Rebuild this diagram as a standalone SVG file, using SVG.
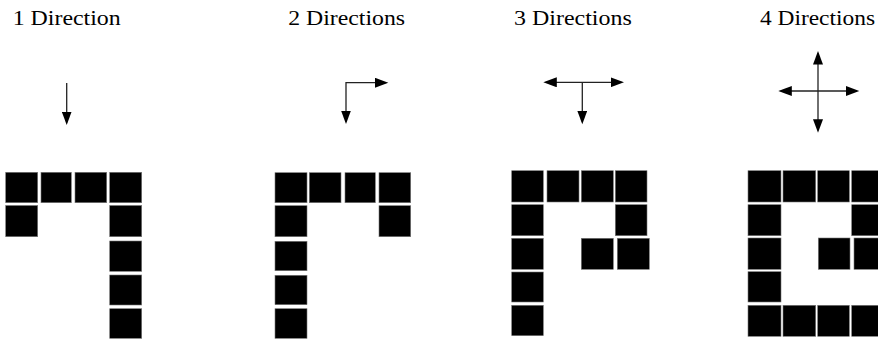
<svg xmlns="http://www.w3.org/2000/svg" width="878" height="339" viewBox="0 0 878 339">
<style>
.title{font-family:"Liberation Serif","Times New Roman",serif;font-size:20px;fill:#000}
.sq{fill:#000;stroke:#777;stroke-width:0.6}
.arr{fill:none;stroke:#222;stroke-width:1.3;marker-end:url(#ah)}
.arr2{fill:none;stroke:#222;stroke-width:1.3;marker-start:url(#ah);marker-end:url(#ah)}
</style>
<defs>
<marker id="ah" markerUnits="userSpaceOnUse" markerWidth="14" markerHeight="10" refX="11" refY="5" orient="auto-start-reverse" viewBox="0 0 14 10">
<path d="M0,0 L13.5,5 L0,10 Z" fill="#000"/>
</marker>
</defs>
<rect width="878" height="339" fill="#fff"/>

<g id="panel1">
<text class="title" x="12.7" y="25" textLength="108" lengthAdjust="spacingAndGlyphs">1 Direction</text>
<g id="grid1">
<rect class="sq" x="5.7" y="172.3" width="32" height="30.4"/>
<rect class="sq" x="41" y="172.3" width="30.3" height="30.4"/>
<rect class="sq" x="75" y="172.3" width="31.7" height="30.4"/>
<rect class="sq" x="109.7" y="172.3" width="32" height="30.4"/>
<rect class="sq" x="5.7" y="205.5" width="32" height="31.2"/>
<rect class="sq" x="109.7" y="205.5" width="32" height="31.2"/>
<rect class="sq" x="109.7" y="241" width="32" height="30.3"/>
<rect class="sq" x="109.7" y="275" width="32" height="30"/>
<rect class="sq" x="109.7" y="308.7" width="32" height="29.6"/>
</g>
</g>

<g id="panel2">
<text class="title" x="288.3" y="25" textLength="116.7" lengthAdjust="spacingAndGlyphs">2 Directions</text>
<g id="grid2">
<rect class="sq" x="275" y="172.7" width="32" height="30"/>
<rect class="sq" x="309.3" y="172.7" width="31.7" height="30"/>
<rect class="sq" x="345" y="172.7" width="30.3" height="30"/>
<rect class="sq" x="379" y="172.7" width="31.7" height="30"/>
<rect class="sq" x="275" y="205.7" width="32" height="31"/>
<rect class="sq" x="379" y="205.7" width="31.7" height="31"/>
<rect class="sq" x="275" y="241.3" width="32" height="29.4"/>
<rect class="sq" x="275" y="275.3" width="32" height="29.4"/>
<rect class="sq" x="275" y="308.7" width="32" height="29.6"/>
</g>
</g>

<g id="panel3">
<text class="title" x="514" y="25" textLength="117.7" lengthAdjust="spacingAndGlyphs">3 Directions</text>
<g id="grid3">
<rect class="sq" x="511.7" y="170.7" width="31.6" height="31.3"/>
<rect class="sq" x="547" y="170.7" width="32" height="31.3"/>
<rect class="sq" x="581.3" y="170.7" width="32" height="31.3"/>
<rect class="sq" x="615.3" y="170.7" width="31.7" height="31.3"/>
<rect class="sq" x="511.7" y="204.7" width="31.6" height="31"/>
<rect class="sq" x="615.3" y="204.7" width="31.7" height="31"/>
<rect class="sq" x="511.7" y="238.3" width="31.6" height="31"/>
<rect class="sq" x="581.3" y="238.3" width="32" height="31"/>
<rect class="sq" x="617.3" y="238.3" width="32" height="31"/>
<rect class="sq" x="511.7" y="272" width="31.6" height="30"/>
<rect class="sq" x="511.7" y="305.3" width="31.6" height="30.4"/>
</g>
</g>

<g id="panel4">
<text class="title" x="760" y="25" textLength="115" lengthAdjust="spacingAndGlyphs">4 Directions</text>
<g id="grid4">
<rect class="sq" x="748" y="170.7" width="33" height="31.3"/>
<rect class="sq" x="783" y="170.7" width="32.7" height="31.3"/>
<rect class="sq" x="817.7" y="170.7" width="31.6" height="31.3"/>
<rect class="sq" x="851.7" y="170.7" width="32" height="31.3"/>
<rect class="sq" x="748" y="204.7" width="33" height="31"/>
<rect class="sq" x="851.7" y="204.7" width="32" height="31"/>
<rect class="sq" x="748" y="238" width="33" height="31.3"/>
<rect class="sq" x="818.3" y="238" width="31.7" height="31.3"/>
<rect class="sq" x="854" y="238" width="32" height="31.3"/>
<rect class="sq" x="748" y="271.7" width="33" height="30.3"/>
<rect class="sq" x="748" y="305.3" width="33" height="31"/>
<rect class="sq" x="783" y="305.3" width="32.7" height="31"/>
<rect class="sq" x="817.7" y="305.3" width="31.6" height="31"/>
<rect class="sq" x="851.7" y="305.3" width="32" height="31"/>
</g>
</g>

<g id="connectors">
<line class="arr" x1="66.7" y1="83" x2="66.7" y2="122.5"/>
<path class="arr2" d="M346,121.5 V82.7 H385.8"/>
<line class="arr2" x1="545.8" y1="82.3" x2="621.5" y2="82.3"/>
<line class="arr" x1="582.3" y1="82.3" x2="582.3" y2="121.8"/>
<line class="arr2" x1="818" y1="53.5" x2="818" y2="130.2"/>
<line class="arr2" x1="780.8" y1="91" x2="856.8" y2="91"/>
</g>
</svg>
